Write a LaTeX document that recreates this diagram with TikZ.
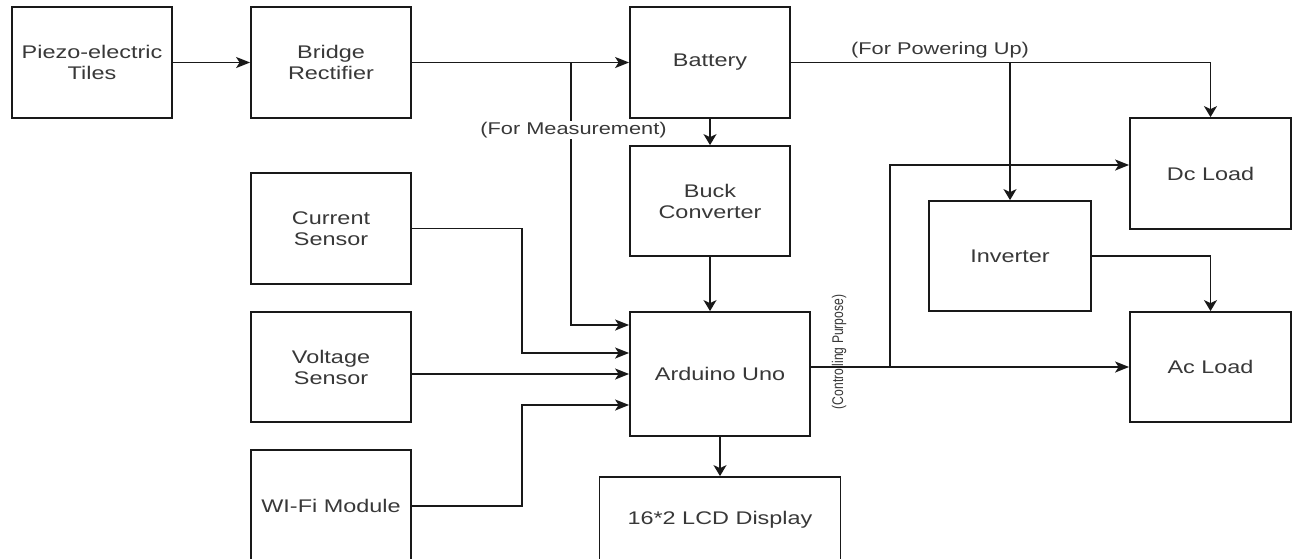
\documentclass[tikz,border=0pt]{standalone}
\usepackage{fontspec}
\setmainfont{Liberation Sans}[FakeStretch=1.28]
\newfontfamily\rotfont{Liberation Sans}[FakeStretch=0.78]
\usetikzlibrary{arrows.meta}
\begin{document}
\begin{tikzpicture}[x=1pt,y=-1pt,
  blk/.style={draw=black!90, line width=1.8pt, inner sep=0pt, text=black!78,
    font=\fontsize{18.3}{21}\selectfont, align=center},
  conn/.style={draw=black!90, line width=1.7pt},
  hto/.style={conn, -{Stealth[length=14pt,width=11pt,inset=3.5pt]}},
  vto/.style={conn, -{Stealth[length=11pt,width=13pt,inset=3pt]}},
  lab/.style={text=black!78, font=\fontsize{17}{20}\selectfont, inner sep=1pt}]
\useasboundingbox (0,0) rectangle (1296,558);
\fill[white] (0,0) rectangle (1296,558);

% boxes
\node[blk, minimum width=160, minimum height=111] (piezo)    at (92,62.5)   {Piezo-electric\\Tiles};
\node[blk, minimum width=160, minimum height=111] (bridge)   at (331,62.5)  {Bridge\\Rectifier};
\node[blk, minimum width=160, minimum height=111] (battery)  at (710,62.5)  {Battery};
\node[blk, minimum width=160, minimum height=110] (buck)     at (710,201)   {Buck\\Converter};
\node[blk, minimum width=160, minimum height=111] (current)  at (331,228.5) {Current\\Sensor};
\node[blk, minimum width=160, minimum height=110] (voltage)  at (331,367)   {Voltage\\Sensor};
\node[blk, minimum width=160, minimum height=112] (wifi)     at (331,506)   {WI-Fi Module};
\node[blk, minimum width=180, minimum height=124] (arduino)  at (720,374)   {Arduino Uno};
\node[blk, minimum width=241, minimum height=86]  (lcd)      at (720,520)   {16*2 LCD Display};
\node[blk, minimum width=161, minimum height=111] (dc)       at (1210.5,173.5) {Dc Load};
\node[blk, minimum width=162, minimum height=110] (inverter) at (1010,256)  {Inverter};
\node[blk, minimum width=161, minimum height=110] (ac)       at (1210.5,367) {Ac Load};

% rotated label (drawn before the line that crosses it)
\node[rotate=90, text=black!78, font=\rotfont\fontsize{15.5}{18}\selectfont, inner sep=0pt]
  (lblc) at (839,352) {(Controlling Purpose)};

% junction coordinates
\coordinate (mj) at (571,62.5);
\coordinate (cj) at (890,367);

% connectors
\draw[hto] (piezo) -- (bridge);
\draw[hto] (bridge) -- (battery);
\draw[hto] (mj) |- ([yshift=49pt]arduino.west);
\draw[vto] (battery) -- (buck);
\draw[vto] (buck.south) -- (buck.south |- arduino.north);
\draw[hto] (current.east) -- ++(110,0) |- ([yshift=21pt]arduino.west);
\draw[hto] (voltage.east |- arduino.west) -- (arduino.west);
\draw[hto] (wifi.east) -- ++(110,0) |- ([yshift=-31pt]arduino.west);
\draw[vto] (arduino) -- (lcd);
\draw[vto] (battery.east) -| (dc.north);
\draw[vto] (battery.east -| inverter.north) -- (inverter.north);
\draw[hto] (arduino.east |- ac.west) -- (ac.west);
\draw[hto] (cj) |- ([yshift=8.5pt]dc.west);
\draw[vto] (inverter.east) -| (ac.north);

% labels
\node[lab, fill=white] (lblm) at (573.5,130) {(For Measurement)};
\node[lab] (lblp) at (940,50) {(For Powering Up)};
\end{tikzpicture}
\end{document}
